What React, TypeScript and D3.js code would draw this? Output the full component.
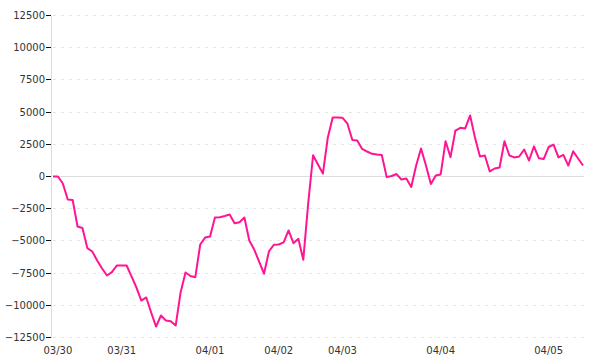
import React from 'react';
import * as d3 from 'd3';

// Series values (one point per sample)
const values: number[] = [
  0, 0, -540, -1790, -1820, -3880, -4000, -5560, -5820, -6520,
  -7140, -7690, -7430, -6910, -6910, -6910, -7760, -8620, -9630, -9390,
  -10560, -11650, -10790, -11180, -11230, -11570, -9000, -7450, -7730, -7820,
  -5280, -4740, -4660, -3180, -3160, -3070, -2950, -3630, -3550, -3180,
  -4970, -5670, -6600, -7550, -5820, -5300, -5280, -5120, -4190, -5180,
  -4840, -6470, -2100, 1650, 930, 230, 3030, 4580, 4580, 4560,
  4100, 2830, 2800, 2140, 1940, 1760, 1710, 1670, -50, 40,
  190, -230, -160, -820, 850, 2170, 850, -580, 80, 160,
  2740, 1500, 3570, 3780, 3730, 4740, 3000, 1550, 1630, 390,
  620, 700, 2740, 1630, 1480, 1550, 2100, 1240, 2330, 1420,
  1360, 2290, 2480, 1480, 1680, 850, 1960, 1400, 850,
];

// X tick labels and the sample index where each is placed
const xTickIndex: number[] = [1, 14, 32, 46, 59, 79, 101];
const xTickLabels: string[] = ['03/30', '03/31', '04/01', '04/02', '04/03', '04/04', '04/05'];

// Y ticks
const yTicks: number[] = [-12500, -10000, -7500, -5000, -2500, 0, 2500, 5000, 7500, 10000, 12500];

const W = 600;
const H = 360;

export default function App() {
  const x = d3.scaleLinear().domain([0, values.length - 1]).range([53, 583]);
  const y = d3.scaleLinear().domain([-12500, 12500]).range([337.5, 15.5]);
  const line = d3
    .line<number>()
    .x((_, i) => x(i))
    .y((d) => y(d));
  const fmt = d3.format('');
  const axisX = 51.5;
  const font = "'DejaVu Sans', Verdana, sans-serif";

  return (
    <div style={{ position: 'fixed', left: 0, top: 0, width: W, height: H, background: '#fff' }}>
      <svg width={W} height={H} style={{ display: 'block' }}>
        <rect x={0} y={0} width={W} height={H} fill="#fff" />
        {/* grid lines */}
        {yTicks.map((t) => (
          <line
            key={'g' + t}
            x1={axisX + 1}
            x2={584}
            y1={y(t)}
            y2={y(t)}
            stroke={t === 0 ? '#dddddd' : '#e6e6e6'}
            strokeWidth={1}
            strokeDasharray={t === 0 ? undefined : '3,5'}
            shapeRendering="crispEdges"
          />
        ))}
        {/* y axis line */}
        <line x1={axisX} x2={axisX} y1={y(12500)} y2={y(-12500)} stroke="#dddddd" strokeWidth={1} shapeRendering="crispEdges" />
        {/* y ticks and labels */}
        {yTicks.map((t) => (
          <g key={'t' + t}>
            <line x1={46} x2={51} y1={y(t)} y2={y(t)} stroke="#111" strokeWidth={1} shapeRendering="crispEdges" />
            <text
              x={45}
              y={y(t)}
              dy="0.34em"
              textAnchor="end"
              fontFamily={font}
              fontSize={10}
              fill="#333"
            >
              {fmt(t)}
            </text>
          </g>
        ))}
        {/* x labels */}
        {xTickIndex.map((idx, k) => (
          <text
            key={'x' + k}
            x={x(idx)}
            y={353.5}
            textAnchor="middle"
            fontFamily={font}
            fontSize={10}
            fill="#333"
          >
            {xTickLabels[k]}
          </text>
        ))}
        {/* series line */}
        <path
          d={line(values) || ''}
          fill="none"
          stroke="#ff1493"
          strokeWidth={2}
          strokeLinejoin="round"
        />
      </svg>
    </div>
  );
}
